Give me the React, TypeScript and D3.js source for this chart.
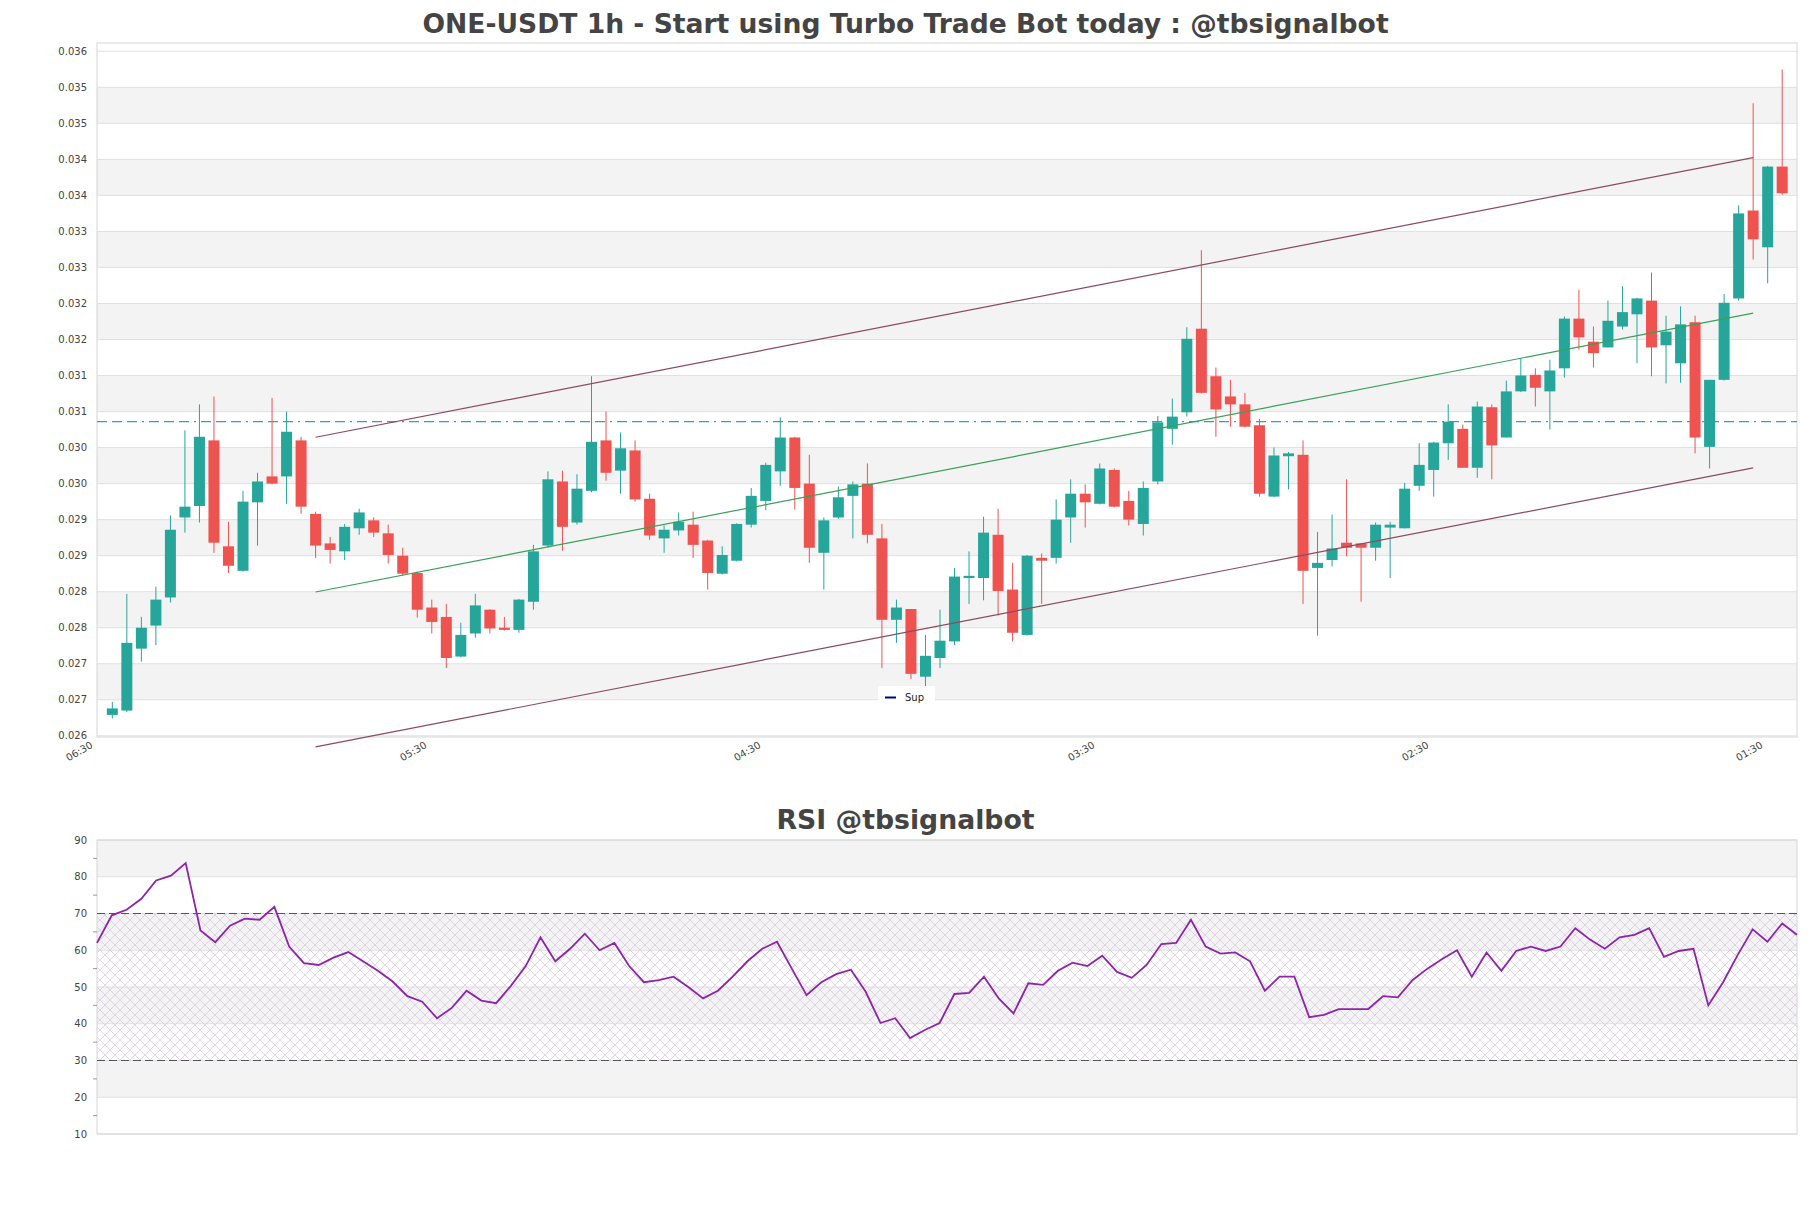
import React from 'react';
import * as d3 from 'd3';

const W = 1811;
const H = 1208;

const openP = [0.02679,0.02685,0.02771,0.02803,0.02842,0.02953,0.02969,0.03060,0.02913,0.02879,0.02974,0.03010,0.03010,0.03060,0.02958,0.02917,0.02906,0.02938,0.02949,0.02931,0.02900,0.02876,0.02828,0.02815,0.02760,0.02792,0.02825,0.02800,0.02797,0.02836,0.02914,0.03003,0.02946,0.02990,0.03060,0.03018,0.03046,0.02979,0.02924,0.02935,0.02943,0.02921,0.02875,0.02893,0.02943,0.02976,0.03017,0.03064,0.03000,0.02904,0.02953,0.02983,0.03000,0.02924,0.02811,0.02826,0.02732,0.02758,0.02781,0.02869,0.02869,0.02929,0.02853,0.02790,0.02897,0.02897,0.02953,0.02986,0.02972,0.03019,0.02976,0.02944,0.03003,0.03076,0.03099,0.03215,0.03149,0.03121,0.03110,0.03081,0.02982,0.03038,0.03040,0.02883,0.02894,0.02918,0.02917,0.02911,0.02939,0.02938,0.02997,0.03019,0.03056,0.03076,0.03022,0.03106,0.03064,0.03128,0.03151,0.03128,0.03160,0.03229,0.03197,0.03189,0.03218,0.03235,0.03254,0.03192,0.03167,0.03224,0.03051,0.03144,0.03257,0.03379,0.03328,0.03440];
const highP = [0.02697,0.02847,0.02815,0.02857,0.02956,0.03074,0.03110,0.03121,0.02947,0.02990,0.03015,0.03119,0.03100,0.03065,0.02961,0.02926,0.02944,0.02965,0.02953,0.02943,0.02911,0.02878,0.02839,0.02833,0.02807,0.02847,0.02826,0.02815,0.02840,0.02915,0.03017,0.03018,0.03013,0.03149,0.03100,0.03071,0.03060,0.02986,0.02942,0.02960,0.02961,0.02922,0.02913,0.02945,0.02994,0.03029,0.03092,0.03065,0.03040,0.02953,0.02996,0.03003,0.03028,0.02944,0.02839,0.02826,0.02790,0.02825,0.02883,0.02906,0.02954,0.02965,0.02890,0.02901,0.02903,0.02978,0.03006,0.02999,0.03028,0.03021,0.02990,0.03003,0.03094,0.03118,0.03217,0.03324,0.03161,0.03144,0.03126,0.03090,0.03050,0.03044,0.03060,0.02933,0.02957,0.03006,0.02917,0.02946,0.02947,0.03001,0.03056,0.03058,0.03110,0.03082,0.03114,0.03110,0.03143,0.03174,0.03160,0.03172,0.03232,0.03269,0.03218,0.03254,0.03274,0.03258,0.03293,0.03233,0.03246,0.03233,0.03144,0.03263,0.03386,0.03528,0.03441,0.03575];
const lowP = [0.02674,0.02683,0.02753,0.02776,0.02835,0.02932,0.02946,0.02904,0.02876,0.02878,0.02914,0.02999,0.02972,0.02958,0.02897,0.02889,0.02894,0.02929,0.02926,0.02889,0.02872,0.02814,0.02792,0.02744,0.02759,0.02786,0.02792,0.02796,0.02793,0.02825,0.02911,0.02907,0.02943,0.02988,0.03004,0.02986,0.02975,0.02922,0.02904,0.02928,0.02897,0.02853,0.02874,0.02892,0.02939,0.02963,0.02997,0.02964,0.02890,0.02853,0.02951,0.02924,0.02917,0.02744,0.02779,0.02729,0.02718,0.02744,0.02776,0.02833,0.02838,0.02817,0.02781,0.02789,0.02833,0.02889,0.02918,0.02939,0.02971,0.02967,0.02942,0.02928,0.02999,0.03054,0.03093,0.03125,0.03065,0.03079,0.03078,0.02982,0.02981,0.02992,0.02833,0.02789,0.02885,0.02899,0.02836,0.02893,0.02869,0.02938,0.02990,0.02982,0.03033,0.03022,0.03008,0.03006,0.03064,0.03127,0.03107,0.03075,0.03147,0.03186,0.03161,0.03189,0.03214,0.03167,0.03149,0.03139,0.03140,0.03042,0.03021,0.03143,0.03254,0.03311,0.03278,0.03401];
const closeP = [0.02688,0.02779,0.02800,0.02839,0.02936,0.02968,0.03065,0.02918,0.02886,0.02975,0.03003,0.03000,0.03072,0.02968,0.02914,0.02908,0.02940,0.02960,0.02932,0.02901,0.02875,0.02825,0.02808,0.02758,0.02790,0.02831,0.02799,0.02797,0.02839,0.02906,0.03006,0.02940,0.02993,0.03058,0.03015,0.03049,0.02978,0.02928,0.02936,0.02947,0.02915,0.02876,0.02901,0.02944,0.02983,0.03026,0.03064,0.02994,0.02911,0.02949,0.02981,0.02999,0.02929,0.02811,0.02828,0.02736,0.02761,0.02782,0.02871,0.02872,0.02932,0.02851,0.02793,0.02900,0.02893,0.02950,0.02986,0.02974,0.03021,0.02968,0.02950,0.02994,0.03085,0.03093,0.03201,0.03126,0.03103,0.03110,0.03079,0.02986,0.03039,0.03042,0.02879,0.02890,0.02910,0.02911,0.02911,0.02943,0.02943,0.02993,0.03026,0.03057,0.03086,0.03022,0.03107,0.03053,0.03128,0.03150,0.03133,0.03157,0.03229,0.03203,0.03181,0.03226,0.03238,0.03257,0.03189,0.03211,0.03221,0.03064,0.03144,0.03251,0.03375,0.03339,0.03440,0.03403];

const rsiValues = [62,69.5,71,74,79,80.3,83.7,65.4,62.2,66.7,68.6,68.3,71.8,61,56.5,56,58,59.5,57,54.4,51.5,47.5,46,41.5,44.3,49,46.3,45.6,50.3,55.7,63.5,57,60.4,64.5,60,62,55.7,51.3,51.9,52.8,50,46.9,49,52.8,57,60.4,62.3,55,47.8,51.3,53.5,54.7,48.7,40.2,41.5,36.1,38.3,40.2,48.1,48.4,52.8,46.9,42.8,51,50.6,54.4,56.6,55.7,58.5,54.1,52.5,56,61.7,62,68.3,61,59.1,59.4,57,49,52.8,52.8,41.8,42.4,44,44,44,47.5,47.2,51.9,55,57.6,60,52.8,59.4,54.4,59.8,61,59.8,61,66,62.9,60.4,63.5,64.2,66,58.2,59.8,60.4,45,51.3,58.8,65.7,62.3,67.3,64.2];

const priceTicks = [0.0265,0.027,0.0275,0.028,0.0285,0.029,0.0295,0.030,0.0305,0.031,0.0315,0.032,0.0325,0.033,0.0335,0.034,0.0345,0.035,0.0355,0.036];
const priceTickLabels = ['0.026','0.027','0.027','0.028','0.028','0.029','0.029','0.030','0.030','0.031','0.031','0.032','0.032','0.033','0.033','0.034','0.034','0.035','0.035','0.036'];
const timeTickIndex = [-1, 22, 45, 68, 91, 114];
const timeTickLabels = ['06:30','05:30','04:30','03:30','02:30','01:30'];
const rsiTicks = [10,20,30,40,50,60,70,80,90];
const rsiMinorTicks = [15,25,35,45,55,65,75,85];

const supportLevel = 0.03086;
const channelIndex = [14, 113];
const upperChannel = [0.030643, 0.034524];
const middleChannel = [0.028496, 0.032365];
const lowerChannel = [0.026347, 0.030218];

const TITLE = 'ONE-USDT 1h - Start using Turbo Trade Bot today : @tbsignalbot';
const RSI_TITLE = 'RSI @tbsignalbot';

const GREEN = '#26a69a';
const RED = '#ef5350';
const FONT = '"DejaVu Sans", sans-serif';

export default function App() {
  const main = { left: 97, right: 1797, top: 43, bottom: 737 };
  const rsiBox = { left: 97, right: 1797, top: 840, bottom: 1134 };

  const x = d3.scaleLinear().domain([-1, 115]).range([97.8, 1782.2]);
  const y = d3.scaleLinear().domain([0.0265, 0.036]).range([735.8, 51.3]);
  const rx = d3.scaleLinear().domain([0, rsiValues.length - 1]).range([rsiBox.left, rsiBox.right]);
  const ry = d3.scaleLinear().domain([10, 90]).range([rsiBox.bottom, rsiBox.top]);

  const bodyW = 11;
  const rsiLine = d3.line<number>().x((_, i) => rx(i)).y((d) => ry(d))(rsiValues) || '';

  const bands: JSX.Element[] = [];
  for (let k = 0; k < priceTicks.length - 1; k++) {
    const lo = priceTicks[k];
    const hi = priceTicks[k + 1];
    const idxFromTop = priceTicks.length - 1 - (k + 1);
    if (idxFromTop % 2 === 1) {
      bands.push(<rect key={'b' + k} x={main.left} y={y(hi)} width={main.right - main.left} height={y(lo) - y(hi)} fill="#f3f3f3" />);
    }
  }

  const rsiBands = [[80, 90], [60, 70], [40, 50], [20, 30]];

  return (
    <svg width={W} height={H} style={{ position: 'absolute', left: 0, top: 0, background: '#fff' }} fontFamily={FONT}>
      <defs>
        <pattern id="hatch" width="10" height="10" patternUnits="userSpaceOnUse">
          <path d="M0,0 L10,10 M10,0 L0,10" stroke="#d6c6de" strokeWidth="0.7" fill="none" />
        </pattern>
      </defs>
      <rect x={0} y={0} width={W} height={H} fill="#fff" />
      <text x={905.5} y={33} textAnchor="middle" fontSize={26.6} fontWeight="bold" fill="#444">{TITLE}</text>

      {bands}
      {priceTicks.map((t, i) => (
        <line key={'g' + i} x1={main.left} x2={main.right} y1={y(t)} y2={y(t)} stroke="#e0e0e0" strokeWidth={1} />
      ))}
      <rect x={main.left} y={main.top} width={main.right - main.left} height={main.bottom - main.top} fill="none" stroke="#d6d6d6" strokeWidth={1} />
      {priceTicks.map((t, i) => (
        <text key={'yl' + i} x={main.left - 10} y={y(t)} dy="0.35em" textAnchor="end" fontSize={10} fill="#444">{priceTickLabels[i]}</text>
      ))}
      {timeTickIndex.map((ti, i) => (
        <text key={'xl' + i} transform={`translate(${x(ti) - 6},${main.bottom + 7}) rotate(-30)`} textAnchor="end" dy="0.35em" fontSize={10} fill="#444">{timeTickLabels[i]}</text>
      ))}

      <line x1={main.left} x2={main.right} y1={y(supportLevel)} y2={y(supportLevel)} stroke="#2a9fd6" strokeWidth={1.3} strokeDasharray="10,5,10,5,10,5,2,5" />

      {openP.map((o, i) => {
        const c = closeP[i];
        const up = c >= o;
        const col = up ? GREEN : RED;
        const cx = x(i);
        const top = y(Math.max(o, c));
        const bot = y(Math.min(o, c));
        return (
          <g key={'c' + i}>
            <line x1={cx} x2={cx} y1={y(highP[i])} y2={y(lowP[i])} stroke={col} strokeWidth={1} />
            <rect x={cx - bodyW / 2} y={top} width={bodyW} height={Math.max(1.5, bot - top)} fill={col} />
          </g>
        );
      })}

      <line x1={x(channelIndex[0])} x2={x(channelIndex[1])} y1={y(upperChannel[0])} y2={y(upperChannel[1])} stroke="#8b4a5e" strokeWidth={1.2} />
      <line x1={x(channelIndex[0])} x2={x(channelIndex[1])} y1={y(middleChannel[0])} y2={y(middleChannel[1])} stroke="#3aa05a" strokeWidth={1.2} />
      <line x1={x(channelIndex[0])} x2={x(channelIndex[1])} y1={y(lowerChannel[0])} y2={y(lowerChannel[1])} stroke="#8b4a5e" strokeWidth={1.2} />

      <rect x={878} y={686} width={57} height={16} fill="#fff" />
      <line x1={885} x2={896} y1={697.5} y2={697.5} stroke="#00008b" strokeWidth={2} />
      <text x={905} y={697} dy="0.35em" fontSize={10} fill="#222">Sup</text>

      <text x={905.5} y={829} textAnchor="middle" fontSize={26.7} fontWeight="bold" fill="#444">{RSI_TITLE}</text>
      {rsiBands.map((b, i) => (
        <rect key={'rb' + i} x={rsiBox.left} y={ry(b[1])} width={rsiBox.right - rsiBox.left} height={ry(b[0]) - ry(b[1])} fill="#f3f3f3" />
      ))}
      {rsiTicks.map((t, i) => (
        <line key={'rg' + i} x1={rsiBox.left} x2={rsiBox.right} y1={ry(t)} y2={ry(t)} stroke="#e0e0e0" />
      ))}
      <rect x={rsiBox.left} y={ry(70)} width={rsiBox.right - rsiBox.left} height={ry(30) - ry(70)} fill="url(#hatch)" />
      <rect x={rsiBox.left} y={rsiBox.top} width={rsiBox.right - rsiBox.left} height={rsiBox.bottom - rsiBox.top} fill="none" stroke="#d6d6d6" />
      {rsiMinorTicks.map((t, i) => (
        <line key={'rm' + i} x1={rsiBox.left - 4} x2={rsiBox.left} y1={ry(t)} y2={ry(t)} stroke="#999" />
      ))}
      {rsiTicks.map((t, i) => (
        <text key={'rl' + i} x={rsiBox.left - 10} y={ry(t)} dy="0.35em" textAnchor="end" fontSize={10} fill="#444">{t}</text>
      ))}
      <line x1={rsiBox.left} x2={rsiBox.right} y1={ry(70)} y2={ry(70)} stroke="#555" strokeDasharray="8,4" strokeWidth={1.2} />
      <line x1={rsiBox.left} x2={rsiBox.right} y1={ry(30)} y2={ry(30)} stroke="#555" strokeDasharray="8,4" strokeWidth={1.2} />
      <path d={rsiLine} fill="none" stroke="#8e24aa" strokeWidth={1.8} />
    </svg>
  );
}
